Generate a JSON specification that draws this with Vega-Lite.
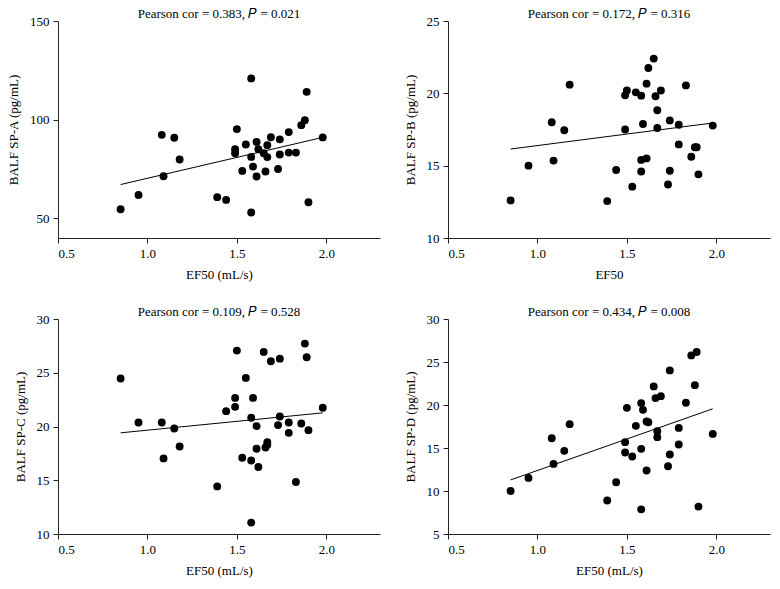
{
  "$schema": "https://vega.github.io/schema/vega-lite/v6.json",
  "background": "white",
  "padding": {"left": 7, "top": 7, "right": 5, "bottom": 5},
  "datasets": {
    "pts": [
      {"ef": 0.85, "a": 54.6, "b": 12.6, "c": 24.46, "d": 10.0},
      {"ef": 0.95, "a": 61.8, "b": 15.0, "c": 20.37, "d": 11.52},
      {"ef": 1.08, "a": 92.3, "b": 18.0, "c": 20.37, "d": 16.14},
      {"ef": 1.09, "a": 71.3, "b": 15.35, "c": 17.03, "d": 13.15},
      {"ef": 1.15, "a": 90.8, "b": 17.45, "c": 19.81, "d": 14.67},
      {"ef": 1.18, "a": 79.8, "b": 20.6, "c": 18.14, "d": 17.77},
      {"ef": 1.39, "a": 60.7, "b": 12.55, "c": 14.43, "d": 8.89},
      {"ef": 1.44, "a": 59.3, "b": 14.7, "c": 21.43, "d": 11.02},
      {"ef": 1.49, "a": 85.0, "b": 19.86, "c": 22.66, "d": 15.68},
      {"ef": 1.49, "a": 83.0, "b": 17.5, "c": 21.83, "d": 14.48},
      {"ef": 1.5, "a": 95.2, "b": 20.2, "c": 27.06, "d": 19.67},
      {"ef": 1.53, "a": 74.0, "b": 13.55, "c": 17.09, "d": 14.01},
      {"ef": 1.55, "a": 87.4, "b": 20.07, "c": 24.52, "d": 17.58},
      {"ef": 1.58, "a": 120.9, "b": 19.84, "c": 20.81, "d": 20.22},
      {"ef": 1.58, "a": 81.1, "b": 15.4, "c": 16.84, "d": 14.9},
      {"ef": 1.58, "a": 52.9, "b": 14.6, "c": 11.06, "d": 7.87},
      {"ef": 1.59, "a": 76.2, "b": 17.88, "c": 22.66, "d": 19.44},
      {"ef": 1.61, "a": 88.7, "b": 20.67, "c": 20.04, "d": 18.08},
      {"ef": 1.61, "a": 71.2, "b": 15.5, "c": 17.93, "d": 12.38},
      {"ef": 1.62, "a": 85.0, "b": 21.75, "c": 16.23, "d": 18.0},
      {"ef": 1.65, "a": 83.0, "b": 22.4, "c": 26.94, "d": 22.16},
      {"ef": 1.66, "a": 73.7, "b": 19.8, "c": 18.05, "d": 20.8},
      {"ef": 1.67, "a": 87.0, "b": 18.83, "c": 18.55, "d": 16.96},
      {"ef": 1.67, "a": 81.0, "b": 17.6, "c": 18.3, "d": 16.26},
      {"ef": 1.69, "a": 91.1, "b": 20.2, "c": 26.07, "d": 21.03},
      {"ef": 1.73, "a": 75.0, "b": 13.7, "c": 20.13, "d": 12.88},
      {"ef": 1.74, "a": 90.0, "b": 18.13, "c": 26.31, "d": 24.02},
      {"ef": 1.74, "a": 82.3, "b": 14.65, "c": 20.93, "d": 14.24},
      {"ef": 1.79, "a": 83.3, "b": 17.83, "c": 20.37, "d": 17.34},
      {"ef": 1.79, "a": 93.7, "b": 16.47, "c": 19.41, "d": 15.41},
      {"ef": 1.83, "a": 83.3, "b": 20.55, "c": 14.84, "d": 20.26},
      {"ef": 1.86, "a": 97.2, "b": 15.62, "c": 20.28, "d": 25.77},
      {"ef": 1.88, "a": 99.7, "b": 16.27, "c": 27.71, "d": 22.31},
      {"ef": 1.89, "a": 114.1, "b": 16.27, "c": 26.44, "d": 26.16},
      {"ef": 1.9, "a": 58.1, "b": 14.4, "c": 19.66, "d": 8.19},
      {"ef": 1.98, "a": 91.0, "b": 17.77, "c": 21.74, "d": 16.64}
    ],
    "fit": [
      {"ef": 0.85, "a": 67.1, "b": 16.15, "c": 19.41, "d": 11.29},
      {"ef": 1.98, "a": 91.0, "b": 17.95, "c": 21.27, "d": 19.56}
    ]
  },
  "config": {
    "font": "Liberation Serif",
    "view": {"stroke": null},
    "axis": {
      "grid": false,
      "domainColor": "#222222",
      "tickColor": "#222222",
      "tickSize": 5,
      "labelColor": "#000000",
      "titleColor": "#000000",
      "labelFont": "Liberation Serif",
      "titleFont": "Liberation Serif",
      "labelFontSize": 13,
      "titleFontSize": 13,
      "titleFontWeight": "normal"
    },
    "axisX": {"labelPadding": 4, "titlePadding": 8},
    "axisY": {"labelPadding": 4, "titlePadding": 9},
    "title": {
      "font": "Liberation Serif",
      "fontSize": 13,
      "fontWeight": "normal",
      "color": "#000000",
      "frame": "group",
      "offset": -5.5
    }
  },
  "columns": 2,
  "spacing": {"row": 24, "column": 24},
  "concat": [
    {
      "width": 322, "height": 217,
      "title": "Pearson cor = 0.383, 𝑃 = 0.021",
      "layer": [
        {
          "data": {"name": "pts"},
          "mark": {"type": "circle", "size": 62, "opacity": 1, "color": "#000000"},
          "encoding": {
            "x": {"field": "ef", "type": "quantitative", "scale": {"domain": [0.5, 2.3], "nice": false, "zero": false}, "axis": {"values": [0.5, 1, 1.5, 2], "format": ".1f", "title": "EF50 (mL/s)"}},
            "y": {"field": "a", "type": "quantitative", "scale": {"domain": [40, 150], "nice": false, "zero": false}, "axis": {"values": [50, 100, 150], "title": "BALF SP-A (pg/mL)"}}
          }
        },
        {
          "data": {"name": "fit"},
          "mark": {"type": "line", "color": "#000000", "strokeWidth": 1},
          "encoding": {
            "x": {"field": "ef", "type": "quantitative"},
            "y": {"field": "a", "type": "quantitative"}
          }
        }
      ]
    },
    {
      "width": 322, "height": 217,
      "title": "Pearson cor = 0.172, 𝑃 = 0.316",
      "layer": [
        {
          "data": {"name": "pts"},
          "mark": {"type": "circle", "size": 62, "opacity": 1, "color": "#000000"},
          "encoding": {
            "x": {"field": "ef", "type": "quantitative", "scale": {"domain": [0.5, 2.3], "nice": false, "zero": false}, "axis": {"values": [0.5, 1, 1.5, 2], "format": ".1f", "title": "EF50"}},
            "y": {"field": "b", "type": "quantitative", "scale": {"domain": [10, 25], "nice": false, "zero": false}, "axis": {"values": [10, 15, 20, 25], "title": "BALF SP-B (pg/mL)"}}
          }
        },
        {
          "data": {"name": "fit"},
          "mark": {"type": "line", "color": "#000000", "strokeWidth": 1},
          "encoding": {
            "x": {"field": "ef", "type": "quantitative"},
            "y": {"field": "b", "type": "quantitative"}
          }
        }
      ]
    },
    {
      "width": 322, "height": 215,
      "title": "Pearson cor = 0.109, 𝑃 = 0.528",
      "layer": [
        {
          "data": {"name": "pts"},
          "mark": {"type": "circle", "size": 62, "opacity": 1, "color": "#000000"},
          "encoding": {
            "x": {"field": "ef", "type": "quantitative", "scale": {"domain": [0.5, 2.3], "nice": false, "zero": false}, "axis": {"values": [0.5, 1, 1.5, 2], "format": ".1f", "title": "EF50 (mL/s)"}},
            "y": {"field": "c", "type": "quantitative", "scale": {"domain": [10, 30], "nice": false, "zero": false}, "axis": {"values": [10, 15, 20, 25, 30], "title": "BALF SP-C (pg/mL)"}}
          }
        },
        {
          "data": {"name": "fit"},
          "mark": {"type": "line", "color": "#000000", "strokeWidth": 1},
          "encoding": {
            "x": {"field": "ef", "type": "quantitative"},
            "y": {"field": "c", "type": "quantitative"}
          }
        }
      ]
    },
    {
      "width": 322, "height": 215,
      "title": "Pearson cor = 0.434, 𝑃 = 0.008",
      "layer": [
        {
          "data": {"name": "pts"},
          "mark": {"type": "circle", "size": 62, "opacity": 1, "color": "#000000"},
          "encoding": {
            "x": {"field": "ef", "type": "quantitative", "scale": {"domain": [0.5, 2.3], "nice": false, "zero": false}, "axis": {"values": [0.5, 1, 1.5, 2], "format": ".1f", "title": "EF50 (mL/s)"}},
            "y": {"field": "d", "type": "quantitative", "scale": {"domain": [5, 30], "nice": false, "zero": false}, "axis": {"values": [5, 10, 15, 20, 25, 30], "title": "BALF SP-D (pg/mL)"}}
          }
        },
        {
          "data": {"name": "fit"},
          "mark": {"type": "line", "color": "#000000", "strokeWidth": 1},
          "encoding": {
            "x": {"field": "ef", "type": "quantitative"},
            "y": {"field": "d", "type": "quantitative"}
          }
        }
      ]
    }
  ]
}
